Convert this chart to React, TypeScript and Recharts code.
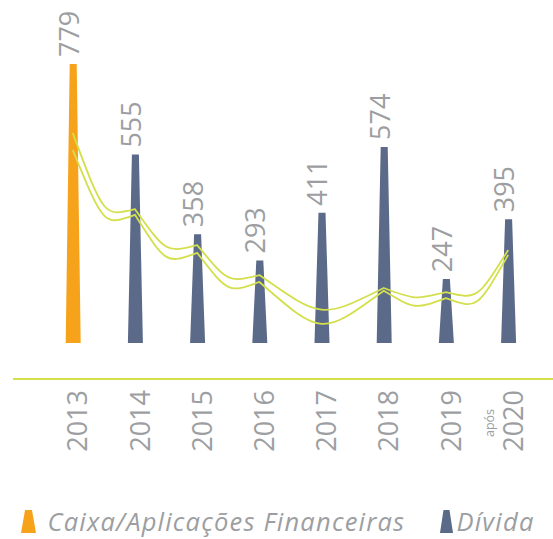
import React from 'react';
import { ComposedChart, Bar, Line, XAxis, YAxis, Legend, LabelList } from 'recharts';

const anos = ['2013', '2014', '2015', '2016', '2017', '2018', '2019', 'após 2020'];
const caixa = [779, null, null, null, null, null, null, null];
const divida = [null, 555, 358, 293, 411, 574, 247, 395];
// decorative "power cables" hanging between the poles (attach heights in value units)
const caboSuperior = [608, 420, 331, 257, null, 225, 215, 319];
const caboInferior = [566, 406, 312, 240, null, 218, 200, 307];

const data = anos.map((ano, i) => ({
  ano,
  caixa: caixa[i],
  divida: divida[i],
  cabo1: caboSuperior[i],
  cabo2: caboInferior[i],
}));

const ORANGE = '#F7A21B';
const NAVY = '#5B6A88';
const GREEN = '#D3DF4B';
const TEXT = '#9C9EA1';
const FONT = '"Open Sans", sans-serif';

// custom d3 curve factory: sagging cable between consecutive points
const makeCableCurve = (slack: number) => (context: any) => {
  let pts: [number, number][] = [];
  return {
    areaStart() {},
    areaEnd() {},
    lineStart() {
      pts = [];
    },
    point(x: number, y: number) {
      pts.push([+x, +y]);
    },
    lineEnd() {
      if (!pts.length) return;
      context.moveTo(pts[0][0], pts[0][1]);
      for (let i = 1; i < pts.length; i++) {
        const [x0, y0] = pts[i - 1];
        const [x1, y1] = pts[i];
        const dx = x1 - x0;
        const cy = Math.max(y0, y1) + (dx * dx) / slack;
        const mx = (x0 + x1) / 2;
        context.bezierCurveTo(mx, cy, mx, cy, x1, y1);
      }
    },
  };
};

const cableUpper = makeCableCurve(500);
const cableLower = makeCableCurve(340);

const Poste = (props: any) => {
  const { x, y, width, height, fill } = props;
  if (!height || height <= 0) return null;
  const cx = x + width / 2;
  const bottom = y + height - 36;
  const topHalf = 3.5;
  const half = width / 2;
  return (
    <path
      d={`M${cx - topHalf},${y} L${cx + topHalf},${y} L${cx + half},${bottom} L${cx - half},${bottom} Z`}
      fill={fill}
    />
  );
};

const RotuloValor = (props: any) => {
  const vb = props.viewBox || props;
  const { x, y, width } = vb;
  const value = props.value;
  if (value == null || value === 0) return null;
  const tx = x + width / 2 + 5.5;
  const ty = y - 7;
  return (
    <text
      x={tx}
      y={ty}
      transform={`rotate(-90 ${tx} ${ty})`}
      textAnchor="start"
      fill={TEXT}
      fontSize={27}
      fontFamily={FONT}
    >
      {value}
    </text>
  );
};

const TickAno = (props: any) => {
  const { x, y, payload } = props;
  const parts: string[] = String(payload.value).split(' ');
  const ano = parts[parts.length - 1];
  const prefixo = parts.length > 1 ? parts[0] : null;
  const ax = x + 14.5;
  const ay = y + 11;
  const px = x - 14;
  const py = y + 44;
  return (
    <g>
      <text
        x={ax}
        y={ay}
        transform={`rotate(-90 ${ax} ${ay})`}
        textAnchor="end"
        fill={TEXT}
        fontSize={27}
        fontFamily={FONT}
      >
        {ano}
      </text>
      {prefixo && (
        <text
          x={px}
          y={py}
          transform={`rotate(-90 ${px} ${py})`}
          textAnchor="middle"
          fill={TEXT}
          fontSize={12.5}
          fontFamily={FONT}
        >
          {prefixo}
        </text>
      )}
    </g>
  );
};

const iconLeft = [21, 440];
const iconWidth = [15, 13];
const textLeft = [47.5, 456.5];

const Legenda = (props: any) => {
  const items = (props.payload || []).filter((p: any) => p.type !== 'none');
  return (
    <div style={{ position: 'relative', width: 553, height: 30 }}>
      {items.map((item: any, i: number) => {
        const w = iconWidth[i] ?? 14;
        return (
          <React.Fragment key={i}>
            <svg
              style={{ position: 'absolute', left: iconLeft[i], top: 5 }}
              width={w}
              height={23}
            >
              <path d={`M${w * 0.27},0 L${w * 0.73},0 L${w},23 L0,23 Z`} fill={item.color} />
            </svg>
            <span
              style={{
                position: 'absolute',
                display: 'block',
                left: textLeft[i],
                top: 3,
                height: 26,
                lineHeight: '26px',
                fontFamily: FONT,
                fontStyle: 'italic',
                fontSize: 25.5,
                letterSpacing: 1.2,
                color: TEXT,
                whiteSpace: 'nowrap',
              }}
            >
              {item.value}
            </span>
          </React.Fragment>
        );
      })}
    </div>
  );
};

export default function App() {
  return (
    <div style={{ position: 'fixed', left: 0, top: 0, width: 553, height: 539, background: '#fff' }}>
      <ComposedChart
        width={553}
        height={539}
        data={data}
        margin={{ top: 55.5, right: 0, bottom: 0, left: 13 }}
      >
        <XAxis
          dataKey="ano"
          interval={0}
          tickLine={false}
          tickSize={0}
          tickMargin={0}
          axisLine={{ stroke: GREEN, strokeWidth: 2 }}
          tick={<TickAno />}
          height={130}
          padding={{ left: 28.7, right: 13.7 }}
        />
        <YAxis hide domain={[0, 800]} />
        <Line
          dataKey="cabo1"
          type={cableUpper as any}
          stroke={GREEN}
          strokeWidth={1.8}
          dot={false}
          activeDot={false}
          connectNulls
          legendType="none"
          isAnimationActive={false}
        />
        <Line
          dataKey="cabo2"
          type={cableLower as any}
          stroke={GREEN}
          strokeWidth={1.8}
          dot={false}
          activeDot={false}
          connectNulls
          legendType="none"
          isAnimationActive={false}
        />
        <Bar
          dataKey="caixa"
          name="Caixa/Aplicações Financeiras"
          stackId="a"
          fill={ORANGE}
          barSize={15}
          shape={<Poste />}
          isAnimationActive={false}
        >
          <LabelList dataKey="caixa" content={<RotuloValor />} />
        </Bar>
        <Bar
          dataKey="divida"
          name="Dívida"
          stackId="a"
          fill={NAVY}
          barSize={15}
          shape={<Poste />}
          isAnimationActive={false}
        >
          <LabelList dataKey="divida" content={<RotuloValor />} />
        </Bar>
        <Legend
          verticalAlign="bottom"
          content={<Legenda />}
          wrapperStyle={{ top: 505, bottom: 'auto', left: 0, width: 553 }}
        />
      </ComposedChart>
    </div>
  );
}
